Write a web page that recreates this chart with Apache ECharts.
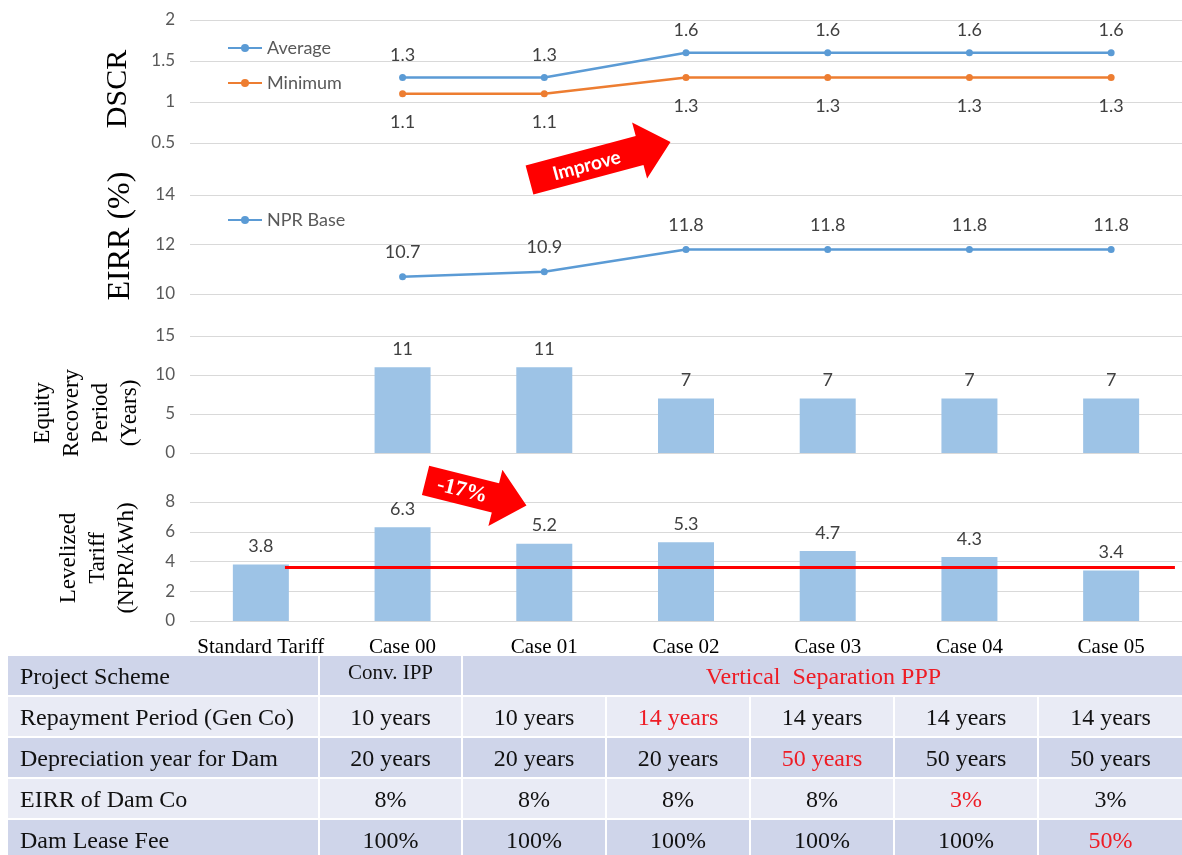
<!DOCTYPE html>
<html>
<head>
<meta charset="utf-8">
<script src="https://cdn.jsdelivr.net/npm/echarts@6/dist/echarts.min.js"></script>
<style>
  html, body { margin: 0; padding: 0; background: #ffffff; }
  #chart { width: 1182px; height: 855px; }
</style>
</head>
<body>
<div id="chart"></div>
<script>
// ---- Data ----
const categories = ['Standard Tariff', 'Case 00', 'Case 01', 'Case 02', 'Case 03', 'Case 04', 'Case 05'];

const dscrAverage = [null, 1.3, 1.3, 1.6, 1.6, 1.6, 1.6];
const dscrMinimum = [null, 1.1, 1.1, 1.3, 1.3, 1.3, 1.3];
const eirrNprBase = [null, 10.7, 10.9, 11.8, 11.8, 11.8, 11.8];
const equityRecoveryYears = [null, 11, 11, 7, 7, 7, 7];
const levelizedTariff = [3.8, 6.3, 5.2, 5.3, 4.7, 4.3, 3.4];
const tariffBenchmark = 3.6;

// axis ranges: [min, max, interval]
const dscrAxis = [0.5, 2, 0.5];
const eirrAxis = [10, 14, 2];
const equityAxis = [0, 15, 5];
const tariffAxis = [0, 8, 2];

// assumption table (columns: Case 00 .. Case 05)
const tableRowLabels = ['Project Scheme', 'Repayment Period (Gen Co)', 'Depreciation year for Dam', 'EIRR of Dam Co', 'Dam Lease Fee'];
const schemeConv = 'Conv. IPP';
const schemeVertical = 'Vertical  Separation PPP';
const repaymentPeriod = ['10 years', '10 years', '14 years', '14 years', '14 years', '14 years'];
const damDepreciation = ['20 years', '20 years', '20 years', '50 years', '50 years', '50 years'];
const damCoEirr = ['8%', '8%', '8%', '8%', '3%', '3%'];
const damLeaseFee = ['100%', '100%', '100%', '100%', '100%', '50%'];
// column (Case index) in which each parameter is changed
const changedCase = [2, 3, 4, 5];

// ---- Styling ----
const BLUE = '#5B9BD5', ORANGE = '#ED7D31', BAR = '#9DC3E6', RED = '#FF0000';
const GRID_LINE = '#D9D9D9', TICK = '#595959', LABEL = '#404040';
const SANS = 'Lato', SERIF = 'Liberation Serif';
const PLOT_LEFT = 190;

const chart = echarts.init(document.getElementById('chart'), null, { renderer: 'canvas' });

const grids = [
  { left: PLOT_LEFT, right: 0, top: 20, height: 123 },
  { left: PLOT_LEFT, right: 0, top: 195, height: 99 },
  { left: PLOT_LEFT, right: 0, top: 336, height: 117 },
  { left: PLOT_LEFT, right: 0, top: 502, height: 119 }
];

function xAxisFor(i, showLabels) {
  return {
    type: 'category', gridIndex: i, data: categories,
    axisLine: { show: false }, axisTick: { show: false },
    axisLabel: {
      show: showLabels, color: '#000', fontFamily: SERIF, fontSize: 21, margin: 16, interval: 0
    }
  };
}
function yAxisFor(i, range) {
  return {
    type: 'value', gridIndex: i, min: range[0], max: range[1], interval: range[2],
    axisLine: { show: false }, axisTick: { show: false },
    splitLine: { show: true, lineStyle: { color: GRID_LINE, width: 1 } },
    axisLabel: { color: TICK, fontFamily: SANS, fontSize: 17, margin: 15 }
  };
}
const valueLabel = (pos, dist) => ({
  show: true, position: pos, distance: dist, color: LABEL, fontFamily: SANS, fontSize: 18
});

const option = {
  animation: false,
  backgroundColor: '#ffffff',
  grid: grids,
  xAxis: [xAxisFor(0, false), xAxisFor(1, false), xAxisFor(2, false), xAxisFor(3, true)],
  yAxis: [yAxisFor(0, dscrAxis), yAxisFor(1, eirrAxis), yAxisFor(2, equityAxis), yAxisFor(3, tariffAxis)],
  legend: [
    {
      data: ['Average', 'Minimum'], orient: 'vertical', left: 222, top: 34, itemGap: 17,
      itemWidth: 34, itemHeight: 10,
      textStyle: { color: TICK, fontFamily: SANS, fontSize: 18 }
    },
    {
      data: ['NPR Base'], orient: 'vertical', left: 222, top: 206,
      itemWidth: 34, itemHeight: 10,
      textStyle: { color: TICK, fontFamily: SANS, fontSize: 18 }
    }
  ],
  series: [
    {
      name: 'Average', type: 'line', xAxisIndex: 0, yAxisIndex: 0, data: dscrAverage,
      color: BLUE, symbol: 'circle', symbolSize: 7, lineStyle: { width: 2.5 },
      label: valueLabel('top', 10)
    },
    {
      name: 'Minimum', type: 'line', xAxisIndex: 0, yAxisIndex: 0, data: dscrMinimum,
      color: ORANGE, symbol: 'circle', symbolSize: 7, lineStyle: { width: 2.5 },
      label: valueLabel('bottom', 16)
    },
    {
      name: 'NPR Base', type: 'line', xAxisIndex: 1, yAxisIndex: 1, data: eirrNprBase,
      color: BLUE, symbol: 'circle', symbolSize: 7, lineStyle: { width: 2.5 },
      label: valueLabel('top', 12)
    },
    {
      name: 'Equity Recovery Period', type: 'bar', xAxisIndex: 2, yAxisIndex: 2, data: equityRecoveryYears,
      color: BAR, barWidth: 56, label: valueLabel('top', 9)
    },
    {
      name: 'Levelized Tariff', type: 'bar', xAxisIndex: 3, yAxisIndex: 3, data: levelizedTariff,
      color: BAR, barWidth: 56, label: valueLabel('top', 9)
    }
  ]
};
chart.setOption(option);

// ---- Annotations, axis titles and assumption table ----
const graphics = [];

function verticalTitle(lines, cx, cy, size, lineGap) {
  const n = lines.length;
  lines.forEach((t, k) => {
    graphics.push({
      type: 'text', x: cx + (k - (n - 1) / 2) * lineGap, y: cy, rotation: Math.PI / 2,
      style: { text: t, fill: '#000', font: size + 'px "' + SERIF + '"', align: 'center', verticalAlign: 'middle' }
    });
  });
}
verticalTitle(['DSCR'], 118, 89, 30, 0);
verticalTitle(['EIRR (%)'], 121, 236, 32, 0);
verticalTitle(['Equity', 'Recovery', 'Period', '(Years)'], 86, 413, 23, 29);
verticalTitle(['Levelized', 'Tariff', '(NPR/kWh)'], 98, 558, 23, 29);

function blockArrow(cx, cy, length, angleDeg, text, font) {
  const half = length / 2, headL = 32, bodyH = 15, headH = 29;
  const pts = [[-half, -bodyH], [half - headL, -bodyH], [half - headL, -headH], [half, 0],
               [half - headL, headH], [half - headL, bodyH], [-half, bodyH]];
  graphics.push({
    type: 'group', x: cx, y: cy, rotation: angleDeg * Math.PI / 180, z: 100,
    children: [
      { type: 'polygon', shape: { points: pts }, style: { fill: RED } },
      { type: 'text', x: -headL / 2 + 2, y: 1,
        style: { text: text, fill: '#fff', font: font, align: 'center', verticalAlign: 'middle' } }
    ]
  });
}
blockArrow(600, 161, 146, 15, 'Improve', 'bold 19px "' + SANS + '"');
blockArrow(476, 493, 104, -14, '-17%', 'bold 22px "' + SERIF + '"');

// benchmark line across the tariff panel
const bandW = (chart.convertToPixel({ xAxisIndex: 3 }, categories[1]) - chart.convertToPixel({ xAxisIndex: 3 }, categories[0]));
const yBench = chart.convertToPixel({ yAxisIndex: 3 }, tariffBenchmark);
const xBench0 = chart.convertToPixel({ xAxisIndex: 3 }, categories[0]) + bandW * 0.17;
const xBench1 = chart.convertToPixel({ xAxisIndex: 3 }, categories[6]) + bandW * 0.45;
graphics.push({
  type: 'line', z: 100, shape: { x1: xBench0, y1: yBench, x2: xBench1, y2: yBench },
  style: { stroke: RED, lineWidth: 3 }
});

// assumption table
const colX = [8, 320, 463, 607, 751, 895, 1039, 1184];
const rowTop = 656, rowStep = 41, rowH = 39;
const DARK = '#CFD5EA', LIGHT = '#E9EBF5', TXT = '#111111', HIGHLIGHT = '#EE1C25';
const tableBody = [repaymentPeriod, damDepreciation, damCoEirr, damLeaseFee];

function cell(x0, x1, r, fill) {
  graphics.push({ type: 'rect', shape: { x: x0, y: rowTop + r * rowStep, width: x1 - x0, height: rowH }, style: { fill: fill } });
}
function cellText(x, r, text, color, align, size, dy) {
  graphics.push({
    type: 'text', x: x, y: rowTop + r * rowStep + rowH / 2 + (dy || 0),
    style: { text: text, fill: color, font: size + 'px "' + SERIF + '"', align: align, verticalAlign: 'middle' }
  });
}
// header row
cell(colX[0], colX[1] - 2, 0, DARK);
cell(colX[1], colX[2] - 2, 0, DARK);
cell(colX[2], colX[7], 0, DARK);
cellText(20, 0, tableRowLabels[0], TXT, 'left', 24, 2);
cellText((colX[1] + colX[2] - 2) / 2, 0, schemeConv, TXT, 'center', 21, -2);
cellText((colX[2] + colX[7]) / 2, 0, schemeVertical, HIGHLIGHT, 'center', 24, 2);
// parameter rows
tableBody.forEach((vals, k) => {
  const r = k + 1;
  const fill = r % 2 === 1 ? LIGHT : DARK;
  cell(colX[0], colX[1] - 2, r, fill);
  cellText(20, r, tableRowLabels[r], TXT, 'left', 24, 2);
  vals.forEach((v, c) => {
    const x0 = colX[c + 1], x1 = colX[c + 2] - 2;
    cell(x0, x1, r, fill);
    cellText((x0 + x1) / 2, r, v, c === changedCase[k] ? HIGHLIGHT : TXT, 'center', 24, 2);
  });
});

chart.setOption({ graphic: graphics });
</script>
</body>
</html>
